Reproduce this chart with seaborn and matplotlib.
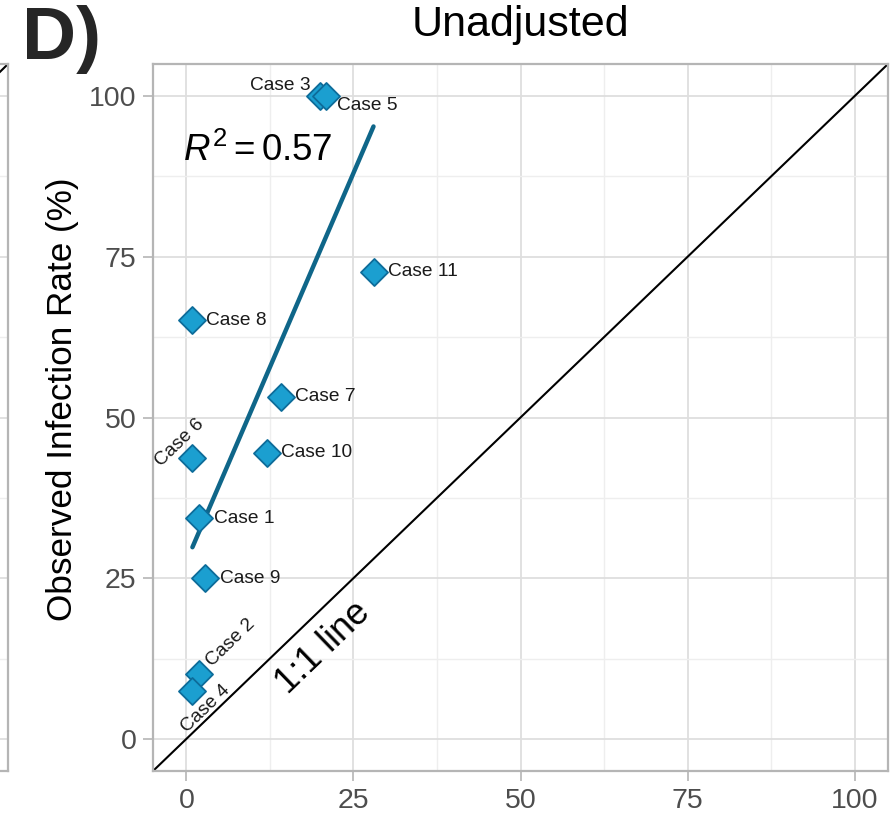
import pandas as pd
import matplotlib
matplotlib.use("Agg")
from matplotlib import pyplot as plt
from matplotlib.ticker import MultipleLocator
import seaborn as sns

# predicted (unadjusted) vs observed infection rate, one point per case
cases = ["Case 1", "Case 2", "Case 3", "Case 4", "Case 5", "Case 6",
         "Case 7", "Case 8", "Case 9", "Case 10", "Case 11"]
predicted = [1.9, 1.9, 20.0, 0.9, 20.9, 0.9, 14.1, 0.9, 2.8, 12.0, 28.0]
observed = [34.3, 10.1, 100.0, 7.4, 100.0, 43.7, 53.2, 65.1, 25.0, 44.5, 72.7]
ticks = [0, 25, 50, 75, 100]
r2_text = r"$R^2 = 0.57$"

df = pd.DataFrame({"case": cases, "predicted": predicted, "observed": observed})

sns.set_theme(style="whitegrid")
plt.rcParams["font.family"] = ["Liberation Sans", "DejaVu Sans"]
plt.rcParams["mathtext.fontset"] = "custom"
plt.rcParams["mathtext.rm"] = "Liberation Sans"
plt.rcParams["mathtext.it"] = "Liberation Sans:italic"

fig = plt.figure(figsize=(8.9, 8.22), dpi=100)
grid_major = "#dedede"
grid_minor = "#eeeeee"
frame = "#b5b5b5"


def style_axes(ax):
    ax.set_xlim(-5, 105)
    ax.set_ylim(-5, 105)
    ax.set_xticks(ticks)
    ax.set_yticks(ticks)
    ax.xaxis.set_minor_locator(MultipleLocator(12.5))
    ax.yaxis.set_minor_locator(MultipleLocator(12.5))
    ax.grid(which="major", color=grid_major, lw=1.3)
    ax.grid(which="minor", color=grid_minor, lw=1.0)
    ax.set_axisbelow(True)
    for s in ax.spines.values():
        s.set_color(frame)
        s.set_linewidth(1.6)
    ax.tick_params(which="major", length=7, width=1.2, color=frame,
                   labelsize=20.5, labelcolor="#4d4d4d", pad=5,
                   bottom=True, left=True)
    ax.tick_params(which="minor", length=0)
    ax.plot([-5, 105], [-5, 105], color="black", lw=1.5, zorder=1)


# sliver of the neighbouring panel on the left
ax0 = fig.add_axes([-0.8, 51 / 822, 0.8 + 8 / 890, 707 / 822])
style_axes(ax0)
ax0.set_xticklabels([])
ax0.set_yticklabels([])

ax = fig.add_axes([153 / 890, 51 / 822, 735 / 890, 707 / 822])
style_axes(ax)

sns.regplot(data=df, x="predicted", y="observed", ax=ax, ci=None,
            scatter=False, line_kws={"color": "#0f6689", "lw": 3.2, "zorder": 2})
sns.scatterplot(data=df, x="predicted", y="observed", ax=ax, marker="D",
                s=190, color="#1b9fd0", edgecolor="#0d6c9a", linewidth=1.3,
                zorder=3)

# label offsets in pixels (dx, dy, rotation, ha)
label_pos = {
    "Case 1": (15, 0, 0, "left"),
    "Case 2": (32, 31, 44, "center"),
    "Case 3": (-9, 11, 0, "right"),
    "Case 4": (13, -17, 44, "center"),
    "Case 5": (11, -9, 0, "left"),
    "Case 6": (-13, 15, 44, "center"),
    "Case 7": (14, 0, 0, "left"),
    "Case 8": (14, 0, 0, "left"),
    "Case 9": (15, 0, 0, "left"),
    "Case 10": (14, 0, 0, "left"),
    "Case 11": (14, 0, 0, "left"),
}
for c, x, y in zip(cases, predicted, observed):
    dx, dy, rot, ha = label_pos[c]
    ax.annotate(c, (x, y), xytext=(dx, dy), textcoords="offset pixels",
                ha=ha, va="center", rotation=rot, rotation_mode="anchor",
                fontsize=13.8, color="#1a1a1a", zorder=4)

ax.text(-0.5, 91.5, r2_text, fontsize=26.5, color="black", ha="left", va="center")
ax.text(20.5, 14.2, "1:1 line", fontsize=26, rotation=44, rotation_mode="anchor",
        ha="center", va="center", color="black")

ax.set_xlabel("")
ax.set_ylabel("Observed Infection Rate (%)", fontsize=25.3, color="black")
ax.yaxis.set_label_coords(-0.100, 0.526)
fig.text(520 / 890, 1 - 25 / 822, "Unadjusted", fontsize=31, color="black",
         ha="center", va="center")
fig.text(22 / 890, 1 - 39 / 822, "D)", fontsize=54, fontweight="bold",
         ha="left", va="center")

plt.savefig("out.png", dpi=100)
